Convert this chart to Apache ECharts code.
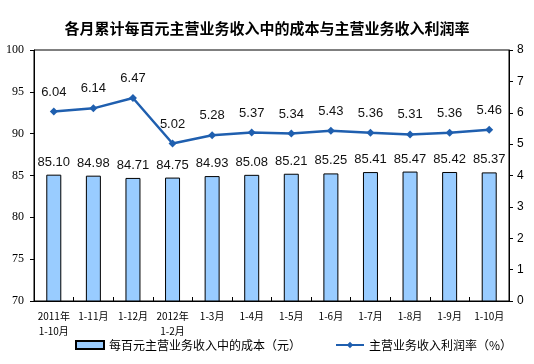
<!DOCTYPE html>
<html><head><meta charset="utf-8">
<script src="https://cdn.jsdelivr.net/npm/echarts@6/dist/echarts.min.js"></script>
<style>html,body{margin:0;padding:0;background:#fff}#c{width:534px;height:364px}</style>
</head><body><div id="c"></div>
<script>
var categories = ['2011年\n1-10月','1-11月','1-12月','2012年\n1-2月','1-3月','1-4月','1-5月','1-6月','1-7月','1-8月','1-9月','1-10月'];
var costValues = [85.10,84.98,84.71,84.75,84.93,85.08,85.21,85.25,85.41,85.47,85.42,85.37];
var profitRate = [6.04,6.14,6.47,5.02,5.28,5.37,5.34,5.43,5.36,5.31,5.36,5.46];
var costName = '每百元主营业务收入中的成本（元）';
var rateName = '主营业务收入利润率（%）';

var chart = echarts.init(document.getElementById('c'));
chart.setOption({
  animation:false,
  backgroundColor:'#fff',
  title:{text:'各月累计每百元主营业务收入中的成本与主营业务收入利润率',left:'center',top:16,
    textStyle:{fontSize:15,fontWeight:'bold',color:'#000',fontFamily:'Noto Sans CJK SC'}},
  grid:{left:34,right:25,top:50,bottom:63,show:true,borderColor:'#000',borderWidth:1},
  legend:{bottom:8,left:70,itemGap:34,itemWidth:28,itemHeight:8,
    textStyle:{fontSize:12,color:'#000',fontFamily:'Noto Sans CJK SC'},
    data:[{name:costName,icon:'rect'},{name:rateName}]},
  xAxis:{type:'category',data:categories,
    axisLine:{lineStyle:{color:'#000'}},
    axisTick:{show:true,inside:true,length:4,lineStyle:{color:'#000'}},
    axisLabel:{color:'#000',fontSize:10,fontFamily:'Noto Sans CJK SC',lineHeight:15,margin:8,interval:0}},
  yAxis:[
    {type:'value',min:70,max:100,interval:5,splitLine:{show:false},
     axisLine:{show:true,lineStyle:{color:'#000'}},axisTick:{show:true,inside:false,length:4,lineStyle:{color:'#000'}},
     axisLabel:{color:'#000',fontSize:12,fontFamily:'Liberation Serif',margin:10}},
    {type:'value',min:0,max:8,interval:1,splitLine:{show:false},
     axisLine:{show:true,lineStyle:{color:'#000'}},axisTick:{show:true,inside:false,length:4,lineStyle:{color:'#000'}},
     axisLabel:{color:'#000',fontSize:12,fontFamily:'Liberation Sans',margin:8}}
  ],
  series:[
    {name:costName,type:'bar',data:costValues,barWidth:15,yAxisIndex:0,
     itemStyle:{color:'#99CCFF',borderColor:'#000',borderWidth:1},
     label:{show:true,position:'top',distance:6,color:'#111',fontSize:13,fontFamily:'Liberation Sans',
       formatter:function(p){return p.value.toFixed(2);}}},
    {name:rateName,type:'line',data:profitRate,yAxisIndex:1,symbol:'diamond',symbolSize:8,
     lineStyle:{color:'#1F5FAF',width:2.5},itemStyle:{color:'#1F5FAF'},
     label:{show:true,position:'top',distance:9,color:'#111',fontSize:13,fontFamily:'Liberation Sans',
       formatter:function(p){return p.value.toFixed(2);}}}
  ]
});
</script></body></html>
